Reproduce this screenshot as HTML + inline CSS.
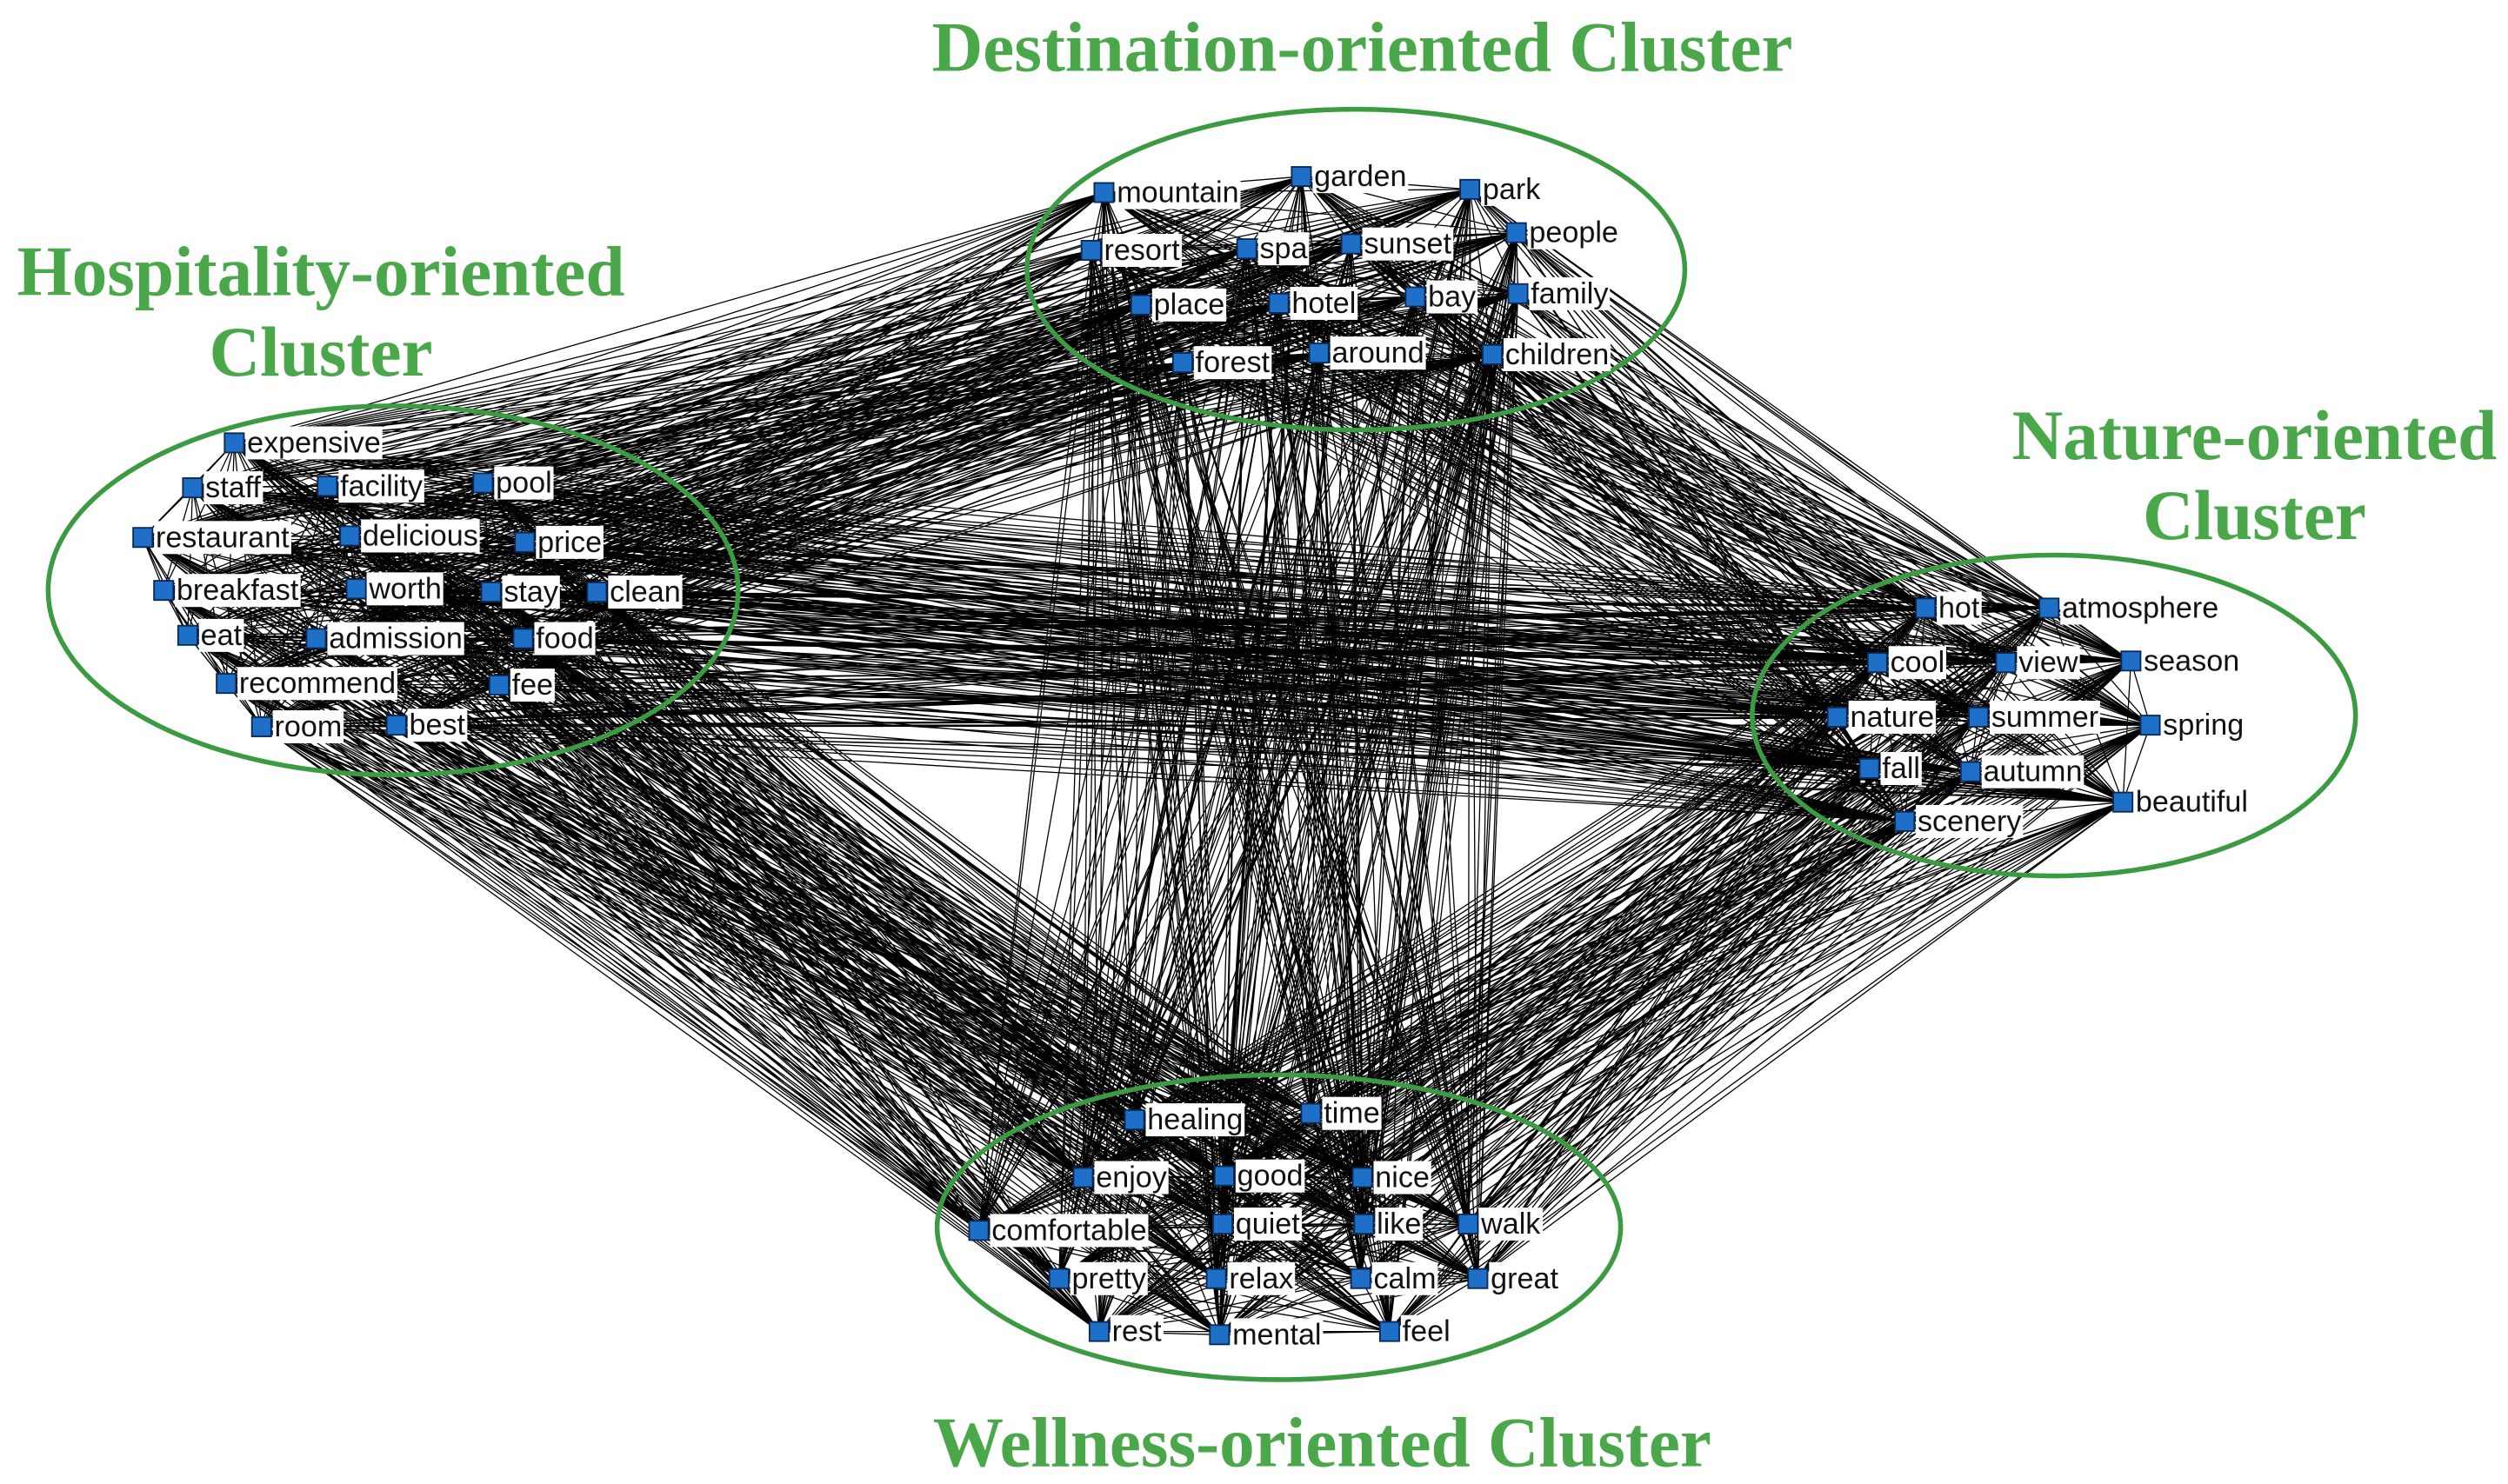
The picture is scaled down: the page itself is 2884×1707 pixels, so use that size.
<!DOCTYPE html>
<html><head><meta charset="utf-8">
<style>
html,body{margin:0;padding:0;background:#fff;}
svg{display:block;}
.lb{font-family:"Liberation Sans",sans-serif;font-size:18.5px;fill:#111;}
.tt{font-family:"Liberation Serif",serif;font-weight:bold;font-size:44px;fill:#4aa84a;text-anchor:middle;}
</style></head>
<body>
<svg id="s" width="2884" height="1707" viewBox="0 0 1563 925" xmlns="http://www.w3.org/2000/svg">
<rect width="1563" height="925" fill="#fff"/>
<g id="edges" stroke="#000" stroke-width="0.7" fill="none"></g>
<g id="ell" fill="none" stroke="#3b9b40" stroke-width="3">
<ellipse cx="245" cy="368" rx="215" ry="115"/>
<ellipse cx="845" cy="168" rx="205" ry="100"/>
<ellipse cx="1280" cy="446" rx="188" ry="100"/>
<ellipse cx="797" cy="765" rx="213" ry="95"/>
</g>
<g id="labs"></g>
<g id="nodes">
<g data-c="0">
<text class="lb" x="688" y="120">mountain</text><text class="lb" x="811" y="110">garden</text><text class="lb" x="916" y="118">park</text>
<text class="lb" x="680" y="156">resort</text><text class="lb" x="777" y="155">spa</text><text class="lb" x="842" y="152">sunset</text>
<text class="lb" x="945" y="145">people</text><text class="lb" x="711" y="190">place</text><text class="lb" x="797" y="189">hotel</text>
<text class="lb" x="882" y="185">bay</text><text class="lb" x="946" y="183">family</text><text class="lb" x="737" y="226">forest</text>
<text class="lb" x="822" y="220">around</text><text class="lb" x="930" y="221">children</text>
</g>
<g data-c="1">
<text class="lb" x="146" y="276">expensive</text><text class="lb" x="120" y="304">staff</text><text class="lb" x="204" y="303">facility</text>
<text class="lb" x="301" y="301">pool</text><text class="lb" x="89" y="335">restaurant</text><text class="lb" x="218" y="334">delicious</text>
<text class="lb" x="327" y="338">price</text><text class="lb" x="102" y="368">breakfast</text><text class="lb" x="222" y="367">worth</text>
<text class="lb" x="306" y="369">stay</text><text class="lb" x="372" y="369">clean</text><text class="lb" x="117" y="396">eat</text>
<text class="lb" x="197" y="398">admission</text><text class="lb" x="326" y="398">food</text><text class="lb" x="141" y="426">recommend</text>
<text class="lb" x="311" y="427">fee</text><text class="lb" x="163" y="453">room</text><text class="lb" x="247" y="452">best</text>
</g>
<g data-c="2">
<text class="lb" x="1200" y="379">hot</text><text class="lb" x="1277" y="379">atmosphere</text><text class="lb" x="1170" y="413">cool</text>
<text class="lb" x="1250" y="413">view</text><text class="lb" x="1328" y="412">season</text><text class="lb" x="1145" y="447">nature</text>
<text class="lb" x="1233" y="447">summer</text><text class="lb" x="1340" y="452">spring</text><text class="lb" x="1165" y="479">fall</text>
<text class="lb" x="1228" y="481">autumn</text><text class="lb" x="1323" y="500">beautiful</text><text class="lb" x="1187" y="512">scenery</text>
</g>
<g data-c="3">
<text class="lb" x="707" y="698">healing</text><text class="lb" x="817" y="694">time</text><text class="lb" x="675" y="734">enjoy</text>
<text class="lb" x="763" y="733">good</text><text class="lb" x="849" y="734">nice</text><text class="lb" x="610" y="767">comfortable</text>
<text class="lb" x="762" y="763">quiet</text><text class="lb" x="850" y="763">like</text><text class="lb" x="915" y="763">walk</text>
<text class="lb" x="660" y="797">pretty</text><text class="lb" x="758" y="797">relax</text><text class="lb" x="848" y="797">calm</text>
<text class="lb" x="921" y="797">great</text><text class="lb" x="685" y="830">rest</text><text class="lb" x="760" y="832">mental</text>
<text class="lb" x="866" y="830">feel</text>
</g>
</g>
<g id="sq"></g>
<text class="tt" x="849" y="44">Destination-oriented Cluster</text>
<text class="tt" x="200" y="184">Hospitality-oriented</text>
<text class="tt" x="200" y="234">Cluster</text>
<text class="tt" x="1405" y="286">Nature-oriented</text>
<text class="tt" x="1405" y="336">Cluster</text>
<text class="tt" x="824" y="914">Wellness-oriented Cluster</text>
</svg>
<script>
(function(){
var NS="http://www.w3.org/2000/svg";
var texts=document.querySelectorAll('#nodes text');
var pts=[];
texts.forEach(function(t){
  var x=+t.getAttribute('x'),y=+t.getAttribute('y');
  var c=+t.parentNode.getAttribute('data-c');
  pts.push([x,y,c]);
  t.setAttribute('x',x+8);t.setAttribute('y',y+6);
});
var e=document.getElementById('edges'),d="";
for(var i=0;i<pts.length;i++)for(var j=i+1;j<pts.length;j++){
  d+="M"+pts[i][0]+" "+pts[i][1]+"L"+pts[j][0]+" "+pts[j][1];
}
var p=document.createElementNS(NS,'path');p.setAttribute('d',d);e.appendChild(p);
var labs=document.getElementById('labs'),sq=document.getElementById('sq');
texts.forEach(function(t,k){
  var b=t.getBBox();
  var r=document.createElementNS(NS,'rect');
  r.setAttribute('x',b.x-1);r.setAttribute('y',b.y);r.setAttribute('width',b.width+2);r.setAttribute('height',b.height);
  r.setAttribute('fill','#fff');labs.appendChild(r);
  var s=document.createElementNS(NS,'rect');
  s.setAttribute('x',pts[k][0]-6);s.setAttribute('y',pts[k][1]-6);s.setAttribute('width',12);s.setAttribute('height',12);
  s.setAttribute('fill','#1e6fc8');s.setAttribute('stroke','#0a2a55');s.setAttribute('stroke-width','1');
  sq.appendChild(s);
});
})();
</script>
</body></html>
